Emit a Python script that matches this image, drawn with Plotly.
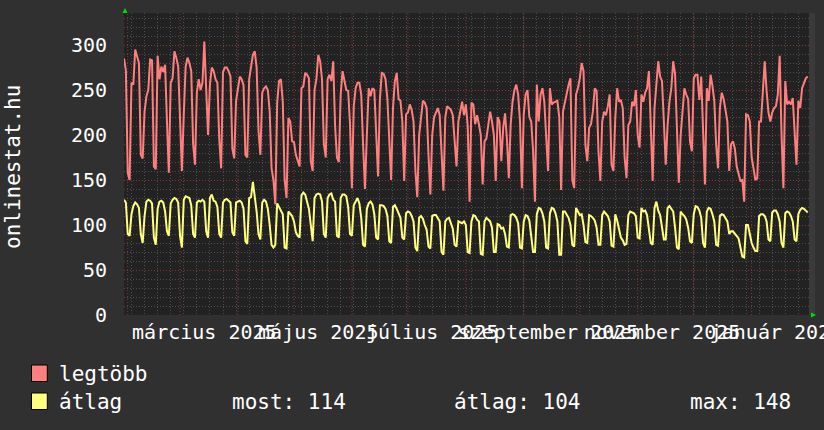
import pandas as pd
import plotly.graph_objects as go

# ---------------- data ----------------
start_date = "2025-01-30"

# daily maximum ("legtöbb"), Thu 2025-01-30 ... Sat 2026-01-31 (rows = Mon..Sun weeks)
legtobb = [
    285, 272, 158, 150,
    258, 256, 295, 288, 280, 178, 174,
    226, 243, 250, 284, 283, 165, 162,
    288, 262, 276, 270, 278, 215, 158,
    258, 263, 293, 286, 276, 215, 160,
    223, 276, 286, 280, 271, 190, 167,
    247, 262, 250, 258, 304, 251, 200,
    256, 275, 271, 262, 258, 195, 163,
    270, 275, 275, 271, 265, 185, 174,
    238, 250, 265, 262, 255, 178, 175,
    262, 278, 289, 293, 275, 205, 178,
    247, 252, 254, 250, 226, 163, 150,
    123, 236, 260, 262, 237, 150, 130,
    219, 215, 193, 192, 178, 170, 165,
    252, 254, 269, 267, 263, 171, 160,
    250, 262, 289, 282, 262, 190, 175,
    262, 267, 260, 282, 210, 175, 170,
    245, 271, 260, 250, 249, 212, 141,
    232, 252, 258, 258, 245, 189, 140,
    200, 252, 243, 252, 250, 210, 154,
    240, 269, 268, 262, 240, 190, 150,
    230, 260, 269, 240, 238, 215, 149,
    223, 225, 234, 228, 215, 160, 131,
    200, 222, 238, 236, 230, 178, 134,
    200, 220, 225, 230, 222, 180, 138,
    220, 232, 230, 228, 222, 193, 165,
    215, 225, 237, 222, 234, 210, 126,
    236, 234, 212, 222, 212, 200, 145,
    193, 196, 212, 226, 215, 200, 149,
    220, 215, 171, 208, 224, 195, 152,
    212, 237, 250, 256, 245, 215, 141,
    223, 245, 250, 220, 215, 182, 126,
    256, 215, 245, 252, 237, 200, 160,
    252, 234, 236, 237, 238, 220, 139,
    226, 237, 249, 256, 263, 150, 141,
    245, 252, 263, 280, 271, 189, 171,
    208, 212, 226, 252, 249, 182, 149,
    215, 226, 222, 232, 245, 167, 160,
    219, 252, 237, 239, 230, 175, 152,
    211, 215, 237, 232, 250, 200, 186,
    245, 237, 247, 252, 271, 212, 149,
    230, 252, 282, 265, 260, 215, 167,
    211, 237, 252, 282, 268, 200, 147,
    200, 230, 252, 245, 240, 193, 182,
    263, 267, 267, 239, 265, 200, 145,
    252, 238, 267, 255, 238, 189, 163,
    230, 247, 240, 228, 215, 160, 190,
    193, 185, 165, 156, 149, 150, 126,
    223, 222, 215, 175, 163, 150, 152,
    215, 215, 252, 282, 249, 225, 215,
    225, 230, 232, 245, 288, 200, 141,
    260, 234, 237, 234, 241, 200, 167,
    238, 230, 252, 258, 263, 265,
]

# daily average ("átlag")
atlag = [
    128, 125, 90, 88,
    112, 121, 125, 123, 119, 90, 80,
    110, 126, 128, 127, 124, 86, 78,
    118, 126, 127, 125, 115, 93, 88,
    124, 128, 130, 129, 125, 88, 75,
    128, 132, 131, 130, 122, 90, 86,
    125, 127, 126, 128, 126, 93, 86,
    130, 134, 127, 126, 120, 90, 86,
    125, 128, 129, 127, 125, 92, 88,
    125, 126, 127, 125, 118, 82, 79,
    130, 131, 148, 131, 115, 90, 84,
    125, 128, 126, 118, 100, 78, 75,
    78, 124, 120, 115, 112, 75, 74,
    115, 113, 110, 104, 92, 88, 86,
    133, 136, 134, 126, 118, 100, 82,
    130, 134, 135, 134, 126, 90, 86,
    130, 134, 135, 128, 126, 88, 86,
    130, 134, 134, 132, 120, 90, 88,
    122, 126, 130, 124, 108, 78, 76,
    118, 124, 126, 123, 112, 86, 84,
    122, 122, 121, 118, 110, 82, 80,
    120, 122, 118, 112, 108, 86, 84,
    113, 115, 114, 110, 104, 75, 71,
    108, 110, 107, 100, 95, 76, 74,
    110, 111, 111, 108, 104, 70, 67,
    104, 107, 108, 102, 96, 78, 76,
    104, 103, 102, 104, 100, 70, 69,
    104, 111, 110, 106, 104, 68, 67,
    104, 108, 106, 104, 97, 70, 70,
    101, 100, 96, 97, 90, 76, 75,
    111, 112, 111, 108, 102, 75, 74,
    104, 111, 110, 105, 90, 70, 70,
    112, 119, 118, 113, 104, 75, 74,
    113, 119, 118, 113, 104, 67, 67,
    115, 115, 112, 108, 100, 78, 76,
    119, 115, 111, 112, 100, 81, 80,
    111, 110, 108, 105, 97, 78, 78,
    111, 115, 113, 110, 104, 77, 76,
    112, 105, 96, 86, 83, 78, 79,
    111, 115, 114, 113, 110, 86, 85,
    119, 115, 116, 111, 96, 80, 78,
    119, 126, 116, 111, 97, 84, 84,
    119, 121, 118, 115, 97, 75, 73,
    115, 112, 110, 106, 97, 82, 80,
    112, 121, 120, 116, 108, 80, 75,
    115, 119, 118, 112, 104, 78, 77,
    110, 112, 111, 108, 104, 90, 93,
    93, 90, 88, 85, 75, 65, 64,
    100, 100, 90, 80, 75, 71, 71,
    110, 112, 112, 110, 104, 84, 82,
    114, 116, 116, 112, 104, 80, 75,
    113, 115, 114, 110, 104, 84, 82,
    112, 117, 119, 118, 116, 114,
]

series_names = ["legtöbb", "átlag"]
series_colors = ["#ff7f7f", "#ffff7f"]
stats_text = ["most: 114", "átlag: 104", "max: 148"]

x_label_dates = ["2025-03-14", "2025-05-14", "2025-07-14",
                 "2025-09-14", "2025-11-14", "2026-01-14"]
x_label_text = ["március 2025", "május 2025", "július 2025",
                "szeptember 2025", "november 2025", "január 2026"]
y_ticks = [0, 50, 100, 150, 200, 250, 300]
y_max = 335.6
x_span_days = 366.7
month_lines = pd.date_range("2025-02-01", "2026-01-01", freq="MS")
week_start = "2025-02-03"
y_title = "onlinestat.hu"

# ---------------- figure ----------------
FONT = "DejaVu Sans Mono"
W, H = 824, 430
L, R, T, B = 124, 809, 13, 315
PW, PH = R - L, B - T
BG = "#303030"


def px(x):
    return (x - L) / PW


def py(y):
    return (B - y) / PH


d_red = pd.date_range(start_date, periods=len(legtobb), freq="D")
d_yel = pd.date_range(start_date, periods=len(atlag), freq="D")
x_end = pd.Timestamp(start_date) + pd.Timedelta(days=x_span_days)

fig = go.Figure()
fig.add_trace(go.Scatter(x=d_red, y=legtobb, mode="lines", name=series_names[0],
                         line=dict(color=series_colors[0], width=2)))
fig.add_trace(go.Scatter(x=d_yel, y=atlag, mode="lines", name=series_names[1],
                         line=dict(color=series_colors[1], width=2)))

grid_gray = "#4d4d4d"
grid_red = "#8a3434"
dotted = "1px,2px"

shapes = []
for m in month_lines:
    shapes.append(dict(type="line", xref="x", yref="paper", x0=m, x1=m, y0=0, y1=1,
                       line=dict(color=grid_red, width=1, dash=dotted), layer="below"))
# light strip right of the plot area
shapes.append(dict(type="rect", xref="paper", yref="paper", x0=1, x1=px(815), y0=0, y1=1,
                   fillcolor="#3a3a3a", line=dict(width=0), layer="below"))
# arrows
shapes.append(dict(type="path", xref="paper", yref="paper", xsizemode="pixel", ysizemode="pixel",
                   xanchor=0, yanchor=1, path="M -1.5,0 L 3.5,0 L 1,5 Z",
                   fillcolor="#00e000", line=dict(width=0)))
shapes.append(dict(type="path", xref="paper", yref="paper", xsizemode="pixel", ysizemode="pixel",
                   xanchor=1, yanchor=0, path="M 2,2.5 L 2,-2.5 L 7,0 Z",
                   fillcolor="#00e000", line=dict(width=0)))
# legend boxes
for i, c in enumerate(series_colors):
    top = 365 + i * 28
    shapes.append(dict(type="rect", xref="paper", yref="paper",
                       x0=px(31.5), x1=px(47.3), y0=py(top + 16.5), y1=py(top),
                       fillcolor=c, line=dict(color="#000000", width=1)))

ann = []
ann.append(dict(text=y_title, x=px(13), y=py(167), xref="paper", yref="paper",
                textangle=-90, showarrow=False, xanchor="center", yanchor="middle",
                font=dict(family=FONT, size=21, color="#ffffff")))
for i, name in enumerate(series_names):
    ann.append(dict(text=name, x=px(57), y=py(374 + i * 28), xref="paper", yref="paper",
                    showarrow=False, xanchor="left", yanchor="middle",
                    font=dict(family=FONT, size=21, color="#ffffff")))
for xp, t in zip([229.5, 451.5, 688], stats_text):
    ann.append(dict(text=t, x=px(xp), y=py(402), xref="paper", yref="paper",
                    showarrow=False, xanchor="left", yanchor="middle",
                    font=dict(family=FONT, size=21, color="#ffffff")))

fig.update_layout(
    width=W, height=H, autosize=False,
    margin=dict(l=L, r=W - R, t=T, b=H - B, pad=0),
    paper_bgcolor=BG, plot_bgcolor="#222222",
    showlegend=False,
    font=dict(family=FONT, size=20, color="#ffffff"),
    shapes=shapes, annotations=ann,
    xaxis=dict(type="date", range=[pd.Timestamp(start_date), x_end],
               tickmode="array", tickvals=x_label_dates, ticktext=x_label_text,
               tickangle=0, ticks="", showgrid=False, zeroline=False, showline=False,
               automargin=False, ticklabeloverflow="allow", ticklabelstandoff=3,
               tickfont=dict(family=FONT, size=20, color="#ffffff"),
               minor=dict(tick0=week_start, dtick=7 * 86400000, showgrid=True,
                          gridcolor=grid_gray, griddash=dotted, gridwidth=1, ticks="")),
    yaxis=dict(range=[0, y_max], tickmode="array", tickvals=y_ticks,
               ticks="", showgrid=True, gridcolor=grid_red, griddash=dotted, gridwidth=1,
               zeroline=False, showline=False, ticklabelstandoff=16, automargin=False,
               tickfont=dict(family=FONT, size=20, color="#ffffff"),
               minor=dict(tick0=0, dtick=10, showgrid=True, gridcolor=grid_gray,
                          griddash=dotted, gridwidth=1, ticks="")),
)

fig.write_html(
    "out.html",
    config={"displayModeBar": False},
    post_script=(
        "document.body.style.margin='0';"
        "document.body.style.padding='0';"
        f"document.body.style.background='{BG}';"
        "document.documentElement.style.background='" + BG + "';"
        "document.body.style.overflow='hidden';"
    ),
)
